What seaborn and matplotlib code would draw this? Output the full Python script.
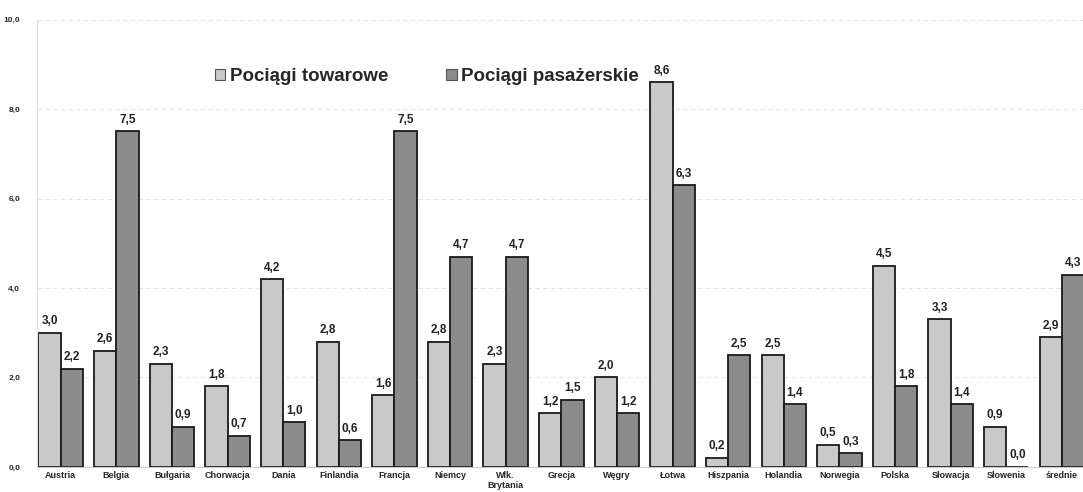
import pandas as pd
import matplotlib.pyplot as plt
import seaborn as sns

# dane
kraje = ['Austria', 'Belgia', 'Bułgaria', 'Chorwacja', 'Dania', 'Finlandia', 'Francja',
         'Niemcy', 'Wlk.\nBrytania', 'Grecja', 'Węgry', 'Łotwa', 'Hiszpania', 'Holandia',
         'Norwegia', 'Polska', 'Słowacja', 'Słowenia', 'średnie']
towarowe = [3.0, 2.6, 2.3, 1.8, 4.2, 2.8, 1.6, 2.8, 2.3, 1.2, 2.0, 8.6, 0.2, 2.5, 0.5, 4.5, 3.3, 0.9, 2.9]
pasazerskie = [2.2, 7.5, 0.9, 0.7, 1.0, 0.6, 7.5, 4.7, 4.7, 1.5, 1.2, 6.3, 2.5, 1.4, 0.3, 1.8, 1.4, 0.0, 4.3]
serie = ['Pociągi towarowe', 'Pociągi pasażerskie']
y_ticks = [0, 2, 4, 6, 8, 10]

df = pd.DataFrame({
    'kraj': kraje * 2,
    'wartosc': towarowe + pasazerskie,
    'typ': [serie[0]] * len(kraje) + [serie[1]] * len(kraje),
})

sns.set_style('white')
plt.rcParams['font.family'] = ['Liberation Sans', 'DejaVu Sans']

fig = plt.figure(figsize=(10.83, 4.92), dpi=100)
ax = fig.add_axes([0.034, 0.051, 0.966, 0.909])

sns.barplot(data=df, x='kraj', y='wartosc', hue='typ', palette=['#c9c9c9', '#8c8c8c'],
            edgecolor='#1a1a1a', linewidth=1.3, width=0.8, ax=ax)

for cont in ax.containers:
    ax.bar_label(cont, labels=[f'{v:.1f}'.replace('.', ',') for v in cont.datavalues],
                 padding=4, fontsize=8.5, fontweight='bold', color='#222222')

ax.set_xlim(-0.43, 18.38)
ax.set_ylim(0, 10)
ax.set_yticks(y_ticks)
ax.set_yticklabels([f'{t:.1f}'.replace('.', ',') for t in y_ticks], fontsize=6, fontweight='bold')
ax.tick_params(axis='y', length=2, pad=10, color='#444444')
ax.tick_params(axis='x', length=0, pad=3, labelsize=6.5)
for lab in ax.get_xticklabels():
    lab.set_fontweight('bold')
ax.set_xlabel('')
ax.set_ylabel('')
ax.yaxis.grid(True, color='#e4e4e4', linestyle=(0, (4, 3)), linewidth=0.8)
ax.set_axisbelow(True)
for s in ['top', 'right']:
    ax.spines[s].set_visible(False)
ax.spines['left'].set_color('#e0e0e0')
ax.spines['bottom'].set_color('#cccccc')

leg = ax.legend(loc='upper left', bbox_to_anchor=(0.154, 0.93), ncol=2, frameon=False,
                prop={'size': 13.5, 'weight': 'bold'}, handlelength=0.55, handleheight=0.55,
                handletextpad=0.25, columnspacing=3.1)
for h in leg.legend_handles:
    h.set_edgecolor('#555555')
    h.set_linewidth(0.8)

plt.savefig('out.png', dpi=100)
